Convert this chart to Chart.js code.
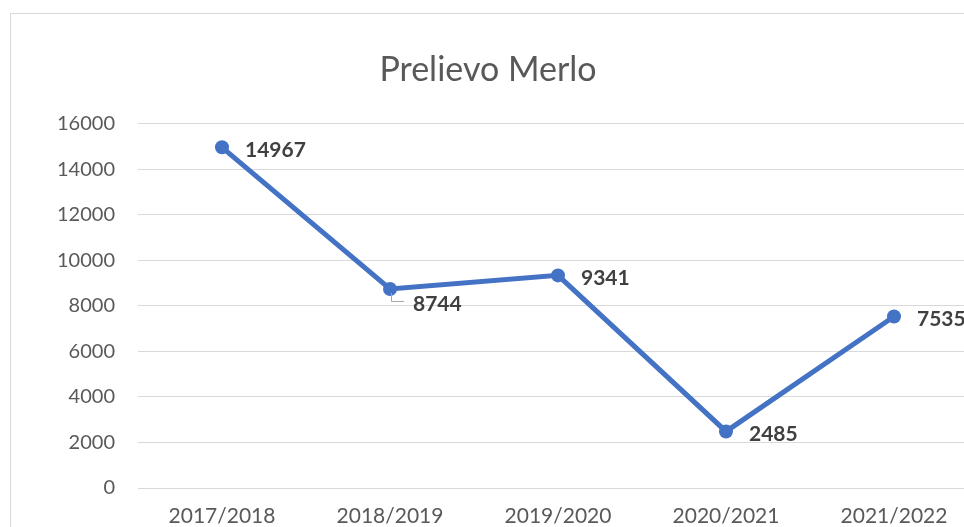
<!DOCTYPE html>
<html>
<head>
<meta charset="utf-8">
<script src="https://cdn.jsdelivr.net/npm/chart.js@4"></script>
<style>
  html, body { margin: 0; padding: 0; background: #fff; overflow: hidden; }
  #wrap { position: relative; width: 964px; height: 527px; overflow: hidden; }
  #frame { position: absolute; left: 10px; top: 13px; width: 1000px; height: 600px;
           border: 1px solid #d9d9d9; box-sizing: border-box; }
  #chart { position: absolute; left: -9px; top: 0; }
</style>
</head>
<body>
<div id="wrap">
  <div id="frame"></div>
  <canvas id="chart" width="994" height="540"></canvas>
</div>
<script>
// chart data
const seasons = ['2017/2018', '2018/2019', '2019/2020', '2020/2021', '2021/2022'];
const prelievo = [14967, 8744, 9341, 2485, 7535];
const yTicks = [0, 2000, 4000, 6000, 8000, 10000, 12000, 14000, 16000];

const blue = '#4472C4';
const grey = '#595959';
const font = 'Lato, "Open Sans", sans-serif';

// draws the bold value next to every point, 8744 sits under its point with a leader line
const valueLabels = {
    id: 'valueLabels',
    afterDatasetsDraw(chart) {
        const ctx = chart.ctx;
        const points = chart.getDatasetMeta(0).data;
        ctx.save();
        ctx.font = 'bold 21px ' + font;
        ctx.fillStyle = '#404040';
        ctx.textBaseline = 'middle';
        ctx.textAlign = 'left';
        points.forEach((p, i) => {
            const value = chart.data.datasets[0].data[i];
            if (i === 1) {
                ctx.strokeStyle = '#a6a6a6';
                ctx.lineWidth = 1;
                ctx.beginPath();
                ctx.moveTo(p.x + 1.5, p.y + 4);
                ctx.lineTo(p.x + 1.5, p.y + 12.5);
                ctx.lineTo(p.x + 14, p.y + 12.5);
                ctx.stroke();
                ctx.fillText(value, p.x + 23, p.y + 15);
            } else {
                ctx.fillText(value, p.x + 23, p.y + 3);
            }
        });
        ctx.restore();
    }
};

function createChart(targetID) {
    const ctx = document.getElementById(targetID).getContext('2d');
    return new Chart(ctx, {
        type: 'line',
        data: {
            labels: seasons,
            datasets: [{
                label: 'Prelievo',
                data: prelievo,
                borderColor: blue,
                backgroundColor: blue,
                borderWidth: 5,
                pointRadius: 7,
                pointHoverRadius: 7,
                pointBackgroundColor: blue,
                pointBorderWidth: 0,
                tension: 0
            }]
        },
        options: {
            responsive: false,
            animation: false,
            layout: { padding: 0 },
            plugins: {
                legend: { display: false },
                tooltip: { enabled: false },
                title: {
                    display: true,
                    text: 'Prelievo Merlo',
                    color: grey,
                    font: { family: font, size: 34, weight: 'normal', lineHeight: 1.2 },
                    padding: { top: 50, bottom: 33 }
                }
            },
            scales: {
                x: {
                    offset: true,
                    grid: { display: false, drawTicks: false },
                    border: { display: false },
                    ticks: { color: grey, font: { family: font, size: 21 }, padding: 16, maxRotation: 0 },
                    afterFit: (scale) => { scale.height = 52; }
                },
                y: {
                    min: 0,
                    max: 16000,
                    afterBuildTicks: (scale) => { scale.ticks = yTicks.map(v => ({ value: v })); },
                    grid: { color: '#d9d9d9', lineWidth: 1, drawTicks: false },
                    border: { display: false },
                    ticks: {
                        color: grey,
                        font: { family: font, size: 20 },
                        padding: 23,
                        callback: (v) => String(v)
                    },
                    afterFit: (scale) => { scale.width = 147; }
                }
            }
        },
        plugins: [valueLabels]
    });
}

createChart('chart');
</script>
</body>
</html>
